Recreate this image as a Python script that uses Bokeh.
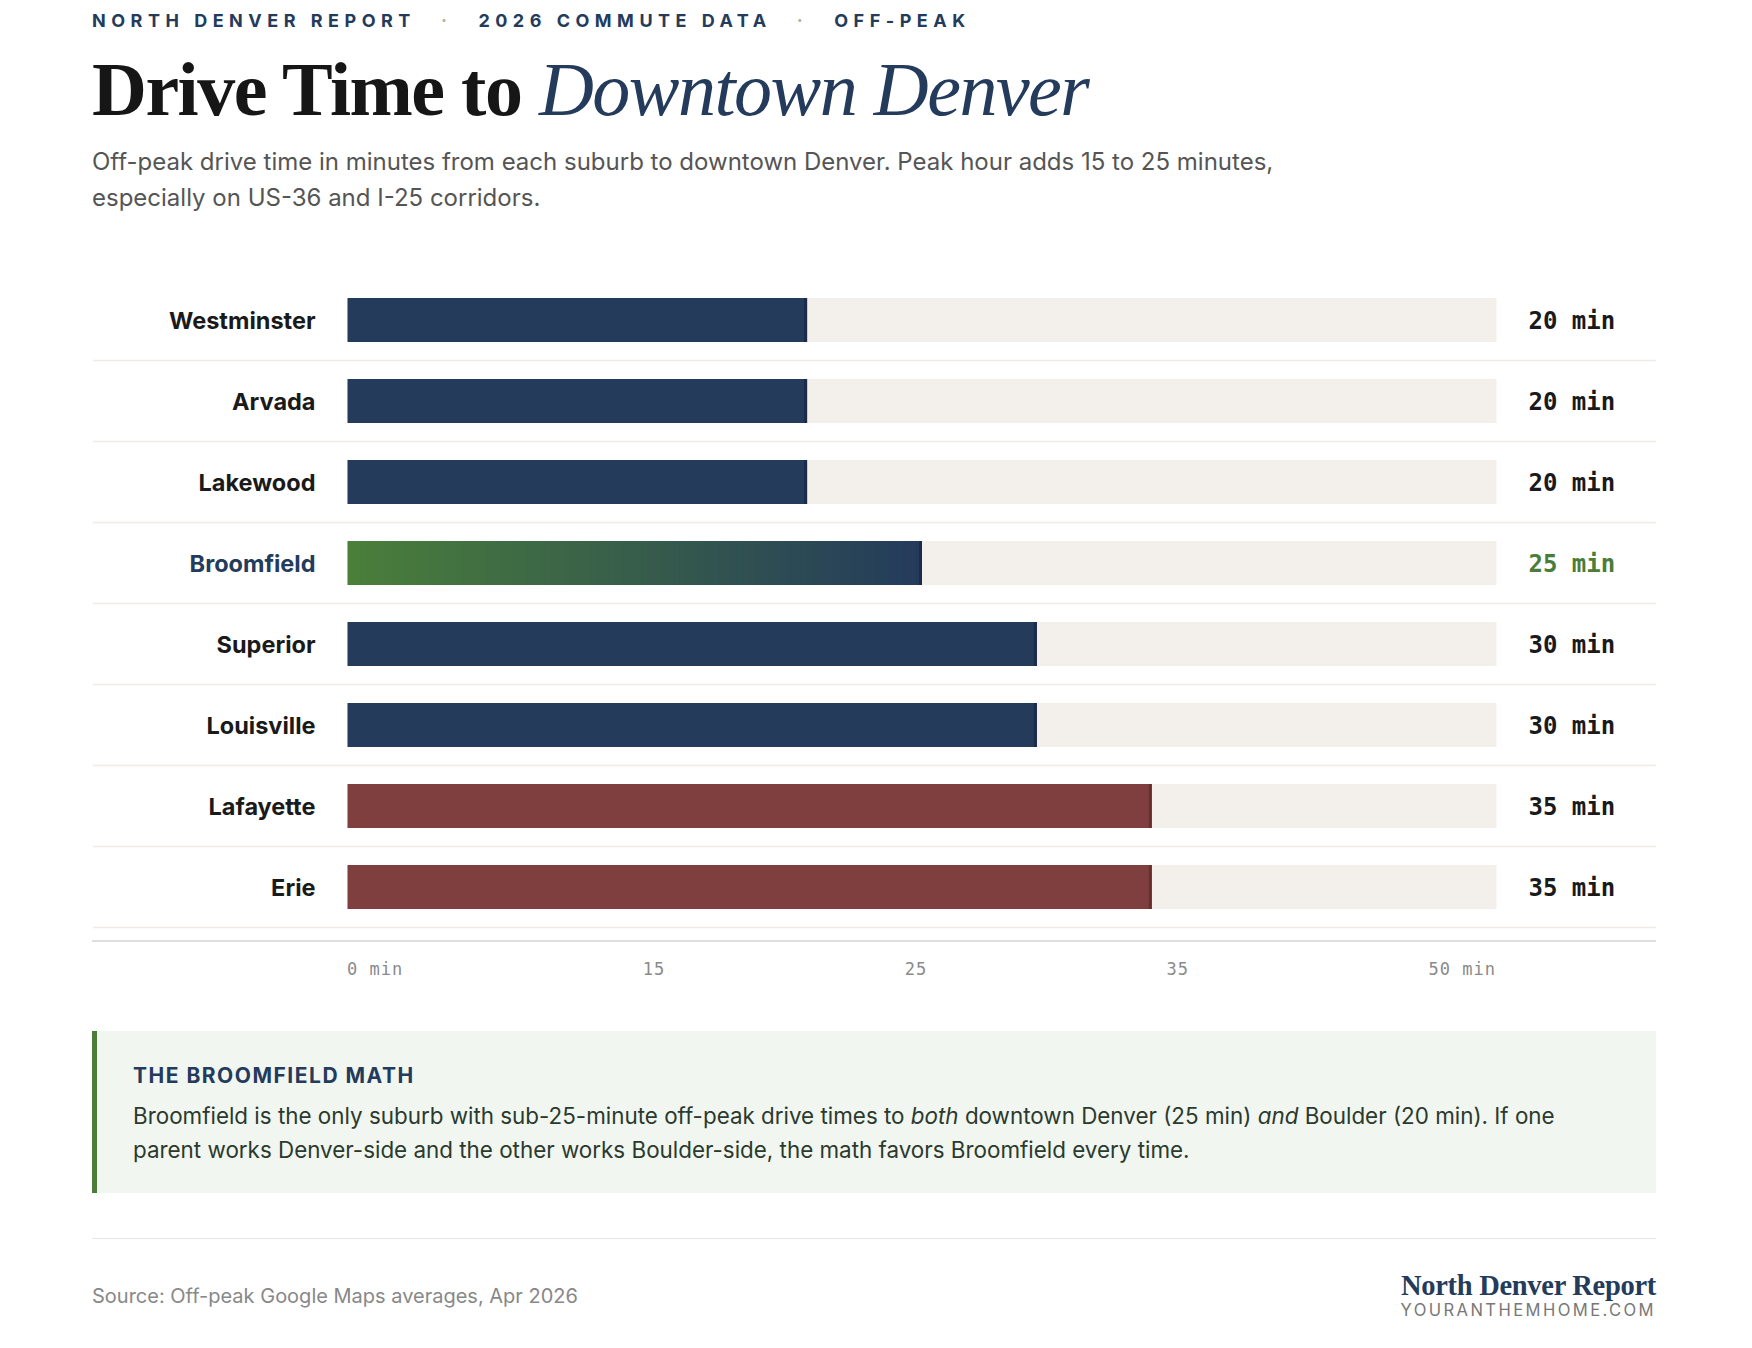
from bokeh.plotting import figure
from bokeh.models import Div, Spacer, Range1d, Span
from bokeh.layouts import column, row
from bokeh.core.properties import value
from bokeh.embed import file_html
from bokeh.resources import INLINE

# ---------------- data ----------------
suburbs = ["Westminster", "Arvada", "Lakewood", "Broomfield",
           "Superior", "Louisville", "Lafayette", "Erie"]
minutes = [20, 20, 20, 25, 30, 30, 35, 35]
group = ["base", "base", "base", "highlight", "base", "base", "long", "long"]
AXIS_MAX = 50
tick_labels = ["0 min", "15", "25", "35", "50 min"]

# ---------------- style ----------------
NAVY = "#243b5c"
NAVY_DARK = "#1a2c47"
RED = "#7f3f3f"
RED_DARK = "#673030"
GREEN = "#4a7f3a"
TRACK = "#f3f0eb"
SEP = "#efebe5"
INK = "#1a1a1a"

SANS = "Inter"
MONO = "DejaVu Sans Mono"
SERIF = "Liberation Serif"

PAGE_W = 1744
L = 92  # content left edge
FIG_W, FIG_H, ROW = 1564, 650, 81
TRACK_LEFT, TRACK_W = 255, 1149
px_per = TRACK_W / AXIS_MAX
x0 = -TRACK_LEFT / px_per
x1 = x0 + FIG_W / px_per
n = len(suburbs)
ys = list(range(n))

p = figure(width=FIG_W, height=FIG_H,
           x_range=Range1d(x0, x1),
           y_range=Range1d(n - 0.5 + 2 / ROW, -0.5),
           x_axis_location=None, y_axis_location=None,
           output_backend="svg", toolbar_location=None,
           min_border=0, outline_line_color=None,
           background_fill_color=None, border_fill_color=None)
p.grid.visible = False

BAR_H = 44 / ROW

# row separators
for i in range(n):
    p.add_layout(Span(location=i + 0.5, dimension="width",
                      line_color=SEP, line_width=1.5))

# tracks
p.hbar(y=ys, left=0, right=AXIS_MAX, height=BAR_H, fill_color=TRACK, line_color=None)

# solid bars
solid_idx = [i for i, g in enumerate(group) if g != "highlight"]
p.hbar(y=[ys[i] for i in solid_idx], left=0,
       right=[minutes[i] for i in solid_idx], height=BAR_H,
       fill_color=[RED if group[i] == "long" else NAVY for i in solid_idx],
       line_color=None)


def mix(c1, c2, t):
    a = [int(c1[k:k + 2], 16) for k in (1, 3, 5)]
    b = [int(c2[k:k + 2], 16) for k in (1, 3, 5)]
    return "#%02x%02x%02x" % tuple(round(a[j] + (b[j] - a[j]) * t) for j in range(3))


# gradient bar for highlight
NSLICE = 90
for i, g in enumerate(group):
    if g != "highlight":
        continue
    v = minutes[i]
    lefts = [v * k / NSLICE for k in range(NSLICE)]
    rights = [min(v, v * (k + 1.6) / NSLICE) for k in range(NSLICE)]
    cols = [mix(GREEN, NAVY, (k + 0.5) / NSLICE) for k in range(NSLICE)]
    p.hbar(y=[ys[i]] * NSLICE, left=lefts, right=rights, height=BAR_H,
           fill_color=cols, line_color=None)

# end caps
cap_w = 3 / px_per
p.hbar(y=ys, left=[m - cap_w for m in minutes], right=minutes, height=BAR_H,
       fill_color=[RED_DARK if g == "long" else NAVY_DARK for g in group],
       line_color=None)

# labels
p.text(x=0, y=ys, text=suburbs, x_offset=-32, text_align="right",
       text_baseline="middle", text_font=value(SANS), text_font_style="bold",
       text_font_size="23.5px",
       text_color=[NAVY if g == "highlight" else INK for g in group])
p.text(x=AXIS_MAX, y=ys, text=[f"{m} min" for m in minutes], x_offset=32, y_offset=1,
       text_align="left", text_baseline="middle", text_font=value(MONO),
       text_font_style="bold", text_font_size="24px",
       text_color=["#4a7c3a" if g == "highlight" else INK for g in group])

# ---------------- header ----------------
dot = '<span style="color:#b9b09a;margin:0 26px 0 25px;">·</span>'
header_html = f"""
<div style="position:relative;width:{PAGE_W}px;height:279px;font-family:Inter,sans-serif;">
  <div style="position:absolute;left:{L}px;top:10px;line-height:22px;font-size:18px;font-weight:700;
       letter-spacing:5.5px;color:{NAVY};white-space:nowrap;">NORTH DENVER REPORT{dot}2026 COMMUTE DATA{dot}OFF-PEAK</div>
  <div style="position:absolute;left:{L}px;top:53px;line-height:72px;font-size:76px;white-space:nowrap;
       font-family:'{SERIF}',serif;letter-spacing:-1.5px;">
    <span style="font-weight:700;color:#161616;">Drive Time to</span>
    <span style="font-style:italic;color:{NAVY};">Downtown Denver</span></div>
  <div style="position:absolute;left:{L}px;top:144px;line-height:36px;font-size:24px;color:#555555;white-space:nowrap;">
    Off-peak drive time in minutes from each suburb to downtown Denver. Peak hour adds 15 to 25 minutes,<br>
    especially on US-36 and I-25 corridors.</div>
</div>
"""
header = Div(text=header_html, width=PAGE_W, height=279, margin=(0, 0, 0, 0))

# ---------------- bottom ----------------
ticks_html = "".join(f"<span>{t}</span>" for t in tick_labels)
bottom_html = f"""
<div style="position:relative;width:{PAGE_W}px;height:400px;font-family:Inter,sans-serif;">
  <div style="position:absolute;left:{L}px;top:11px;width:1564px;height:0;border-top:2px solid #dedede;"></div>
  <div style="position:absolute;left:{L + TRACK_LEFT}px;top:29px;width:{TRACK_W}px;display:flex;
       justify-content:space-between;font-family:'{MONO}',monospace;font-size:17px;line-height:22px;
       color:#8a8a8a;letter-spacing:1px;">{ticks_html}</div>
  <div style="position:absolute;left:{L}px;top:102px;width:1564px;height:162px;background:#f1f6f1;
       border-left:5px solid #4a7c3a;box-sizing:border-box;">
    <div style="position:absolute;left:36px;top:33px;font-size:21px;line-height:24px;font-weight:700;
         letter-spacing:1.5px;color:{NAVY};">THE BROOMFIELD MATH</div>
    <div style="position:absolute;left:36px;top:68px;font-size:22.4px;line-height:33.5px;color:#2c3a2e;white-space:nowrap;">
      Broomfield is the only suburb with sub-25-minute off-peak drive times to <i>both</i> downtown Denver (25 min) <i>and</i> Boulder (20 min). If one<br>
      parent works Denver-side and the other works Boulder-side, the math favors Broomfield every time.</div>
  </div>
  <div style="position:absolute;left:{L}px;top:309px;width:1564px;height:0;border-top:1px solid #e6e6e6;"></div>
  <div style="position:absolute;left:{L}px;top:356px;font-size:20px;line-height:22px;color:#888888;white-space:nowrap;">
    Source: Off-peak Google Maps averages, Apr 2026</div>
  <div style="position:absolute;right:88px;top:342px;font-family:'{SERIF}',serif;font-size:28.5px;line-height:30px;
       font-weight:700;color:{NAVY};white-space:nowrap;letter-spacing:-0.3px;">North Denver Report</div>
  <div style="position:absolute;right:88px;top:371px;font-size:16.6px;line-height:20px;color:#777777;
       letter-spacing:2.4px;white-space:nowrap;">YOURANTHEMHOME.COM</div>
</div>
"""
bottom = Div(text=bottom_html, width=PAGE_W, height=400, margin=(0, 0, 0, 0))

layout = column(header, row(Spacer(width=L, height=FIG_H), p), bottom)

open("out.html", "w").write(file_html(layout, INLINE))
